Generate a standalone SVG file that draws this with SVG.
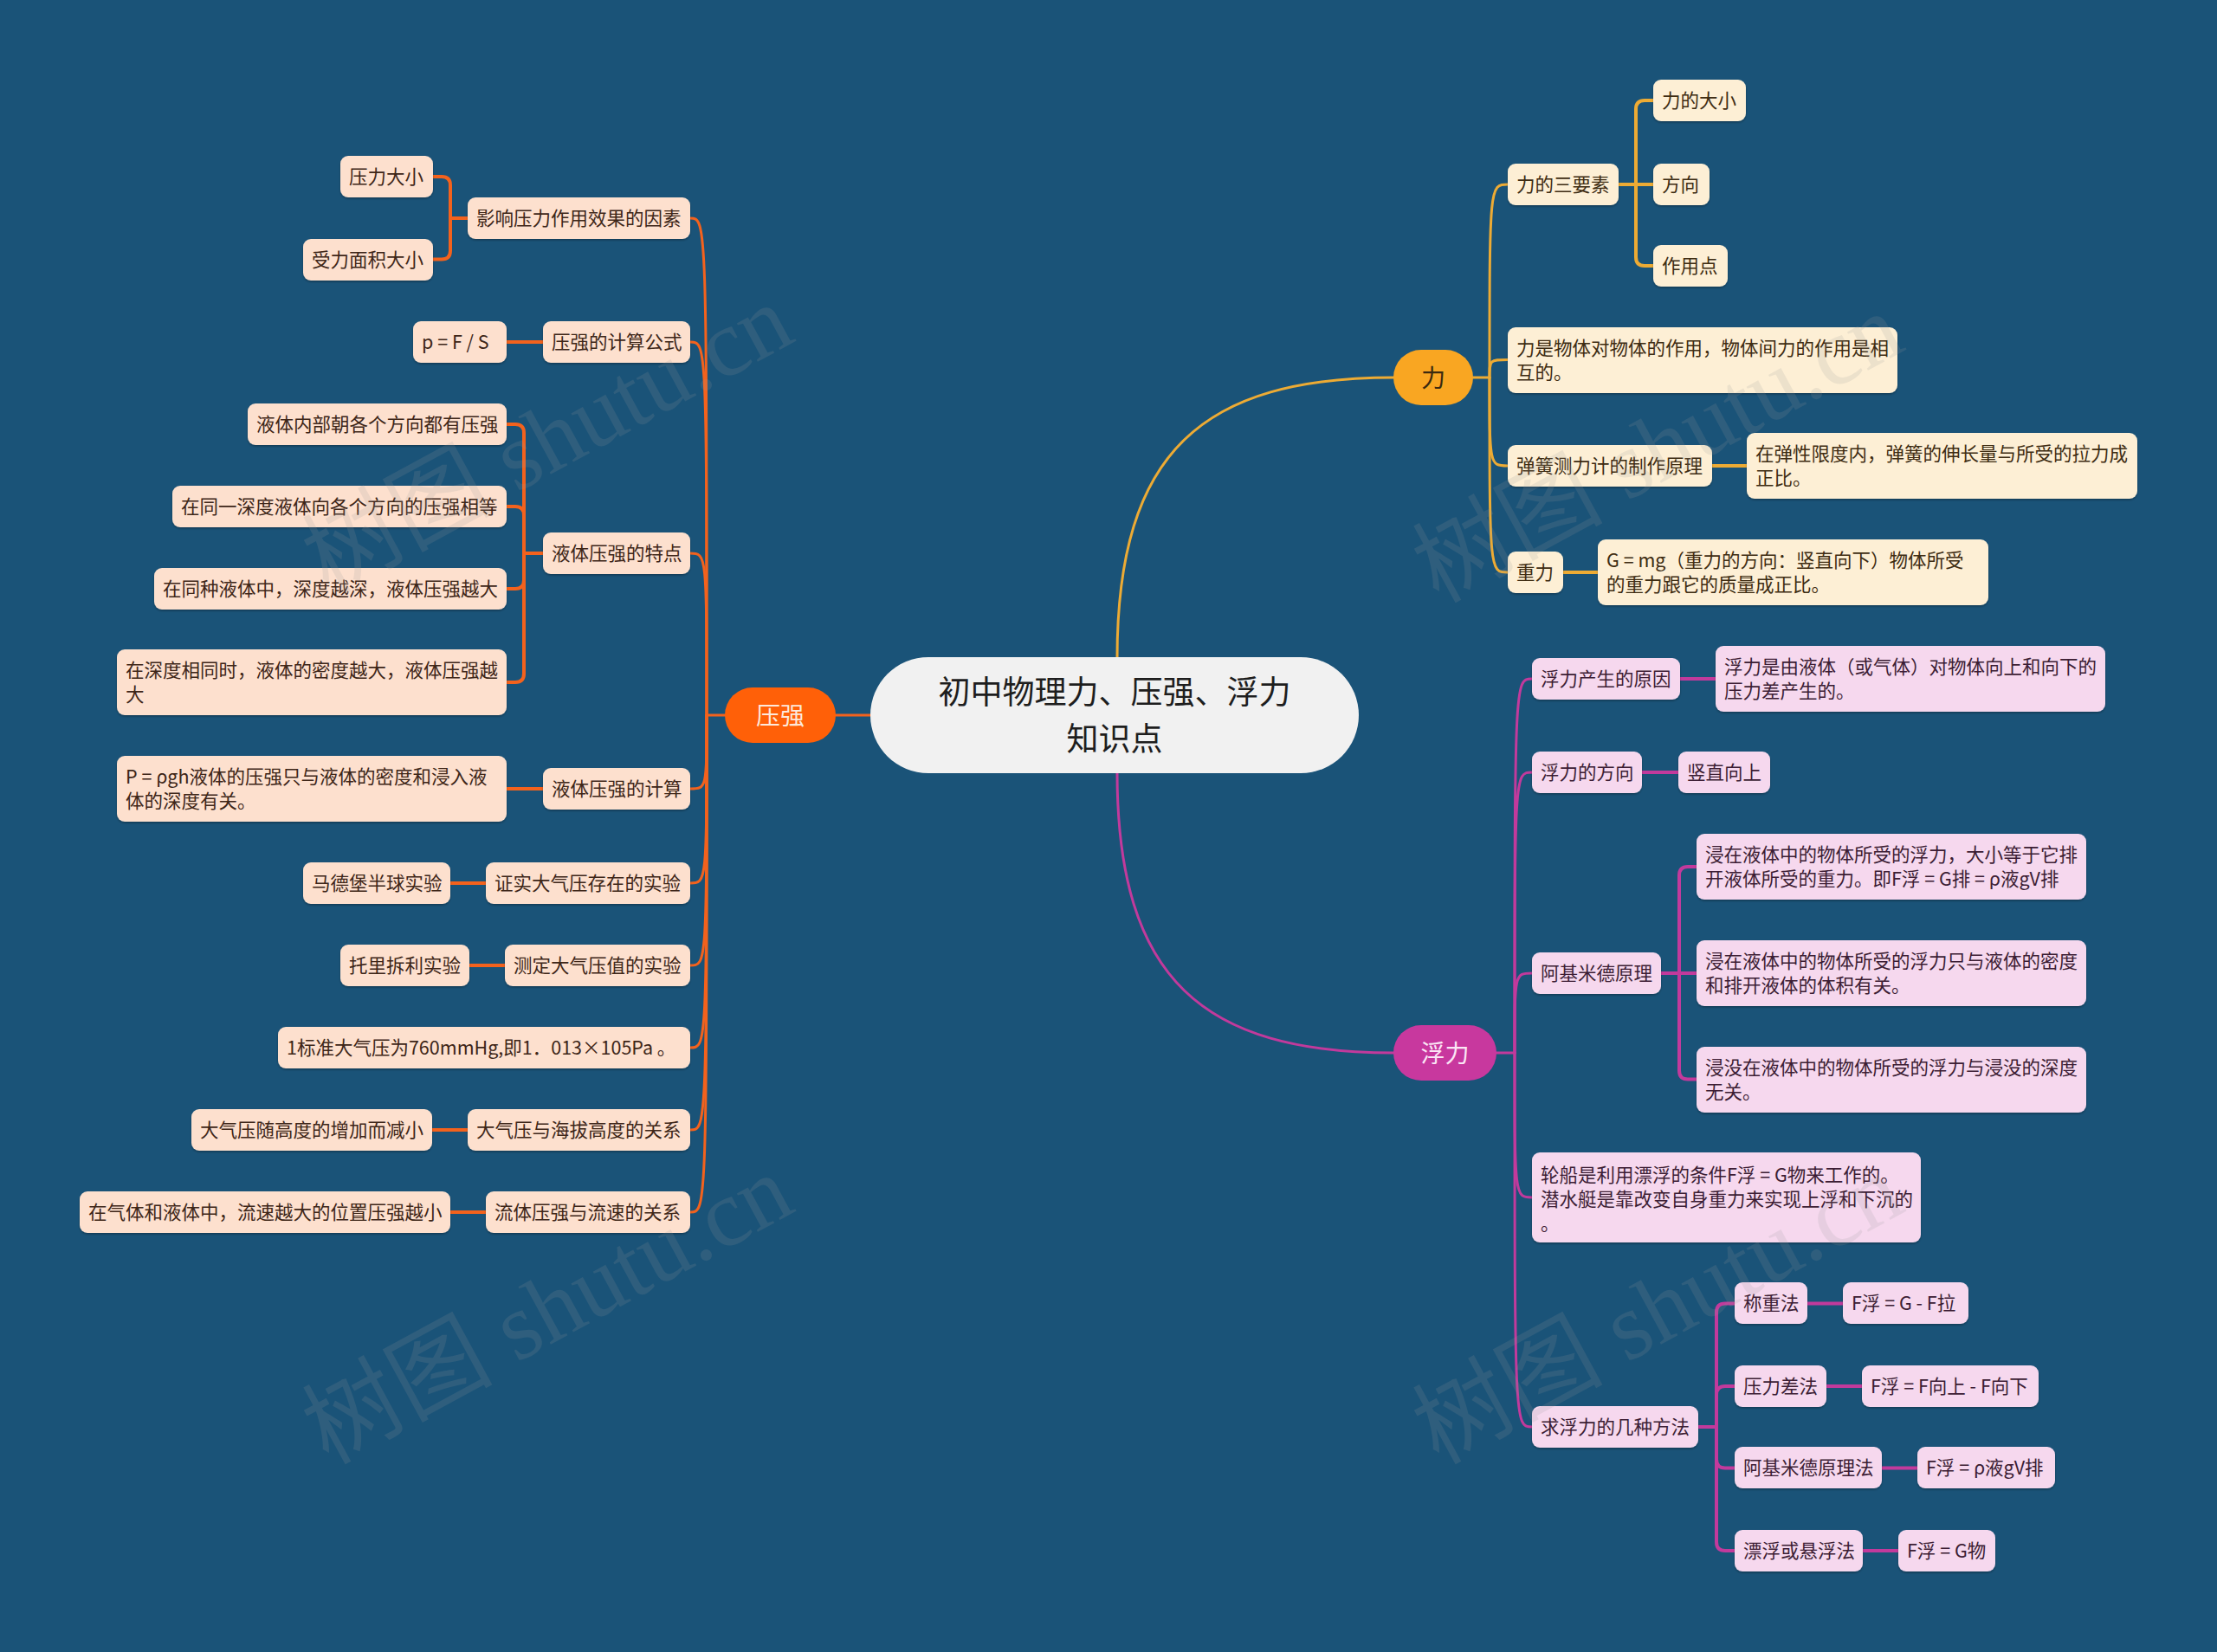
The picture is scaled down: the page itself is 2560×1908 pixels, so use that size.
<svg xmlns="http://www.w3.org/2000/svg" width="2560" height="1908" viewBox="0 0 2560 1908">
<defs>
<style>
.bg{fill:#1a5378}
.t{font-family:"Noto Sans CJK SC","Microsoft YaHei","Noto Sans",sans-serif;font-size:21.5px}
.ny rect{fill:#fde0ce}
.ny text{fill:#3e2618}
.nl rect{fill:#fdefd5}
.nl text{fill:#3e2c12}
.nf rect{fill:#f6d8ee}
.nf text{fill:#3c1d34}
.box{filter:url(#sh)}
.cy{fill:none;stroke:#f3621d;stroke-linecap:round}
.cl{fill:none;stroke:#edab34;stroke-linecap:round}
.cf{fill:none;stroke:#c23a9c;stroke-linecap:round}
.w3{stroke-width:3}
.w4{stroke-width:4}
.wm{font-family:"Liberation Serif","Noto Sans CJK SC",serif;font-size:110px;fill:#9a9a9a;opacity:0.16}
</style>
<filter id="sh" x="-5%" y="-10%" width="110%" height="130%">
<feDropShadow dx="0" dy="1.5" stdDeviation="1" flood-color="#000" flood-opacity="0.3"/>
</filter>
</defs>
<rect class="bg" x="0" y="0" width="2560" height="1908"/>

<g id="connectors">
<path class="cy w3" d="M 1006 826 H 965"/>
<path class="cl w3" d="M 1290 760 C 1290 520, 1390 436, 1610 436"/>
<path class="cf w3" d="M 1290 892 C 1290 1132, 1390 1216, 1610 1216"/>
<path class="cy w3" d="M 838 826 H 816"/>
<path class="cy w3" d="M 816 826 C 816 252, 816 252, 797 252"/>
<path class="cy w3" d="M 816 826 C 816 395, 816 395, 797 395"/>
<path class="cy w3" d="M 816 826 C 816 639, 816 639, 797 639"/>
<path class="cy w3" d="M 816 826 C 816 911, 816 911, 797 911"/>
<path class="cy w3" d="M 816 826 C 816 1020, 816 1020, 797 1020"/>
<path class="cy w3" d="M 816 826 C 816 1115, 816 1115, 797 1115"/>
<path class="cy w3" d="M 816 826 C 816 1210, 816 1210, 797 1210"/>
<path class="cy w3" d="M 816 826 C 816 1305, 816 1305, 797 1305"/>
<path class="cy w3" d="M 816 826 C 816 1400, 816 1400, 797 1400"/>
<path class="cy w4" d="M 540 252 H 520 M 520 252 V 214 Q 520 204 510 204 H 500 M 520 252 V 289.5 Q 520 299.5 510 299.5 H 500"/>
<path class="cy w4" d="M 627 395 H 585"/>
<path class="cy w4" d="M 627 639 H 605 M 605 639 V 500 Q 605 490 595 490 H 585 M 605 639 V 595 Q 605 585 595 585 H 585 M 605 639 V 670 Q 605 680 595 680 H 585 M 605 639 V 778 Q 605 788 595 788 H 585"/>
<path class="cy w4" d="M 627 911 H 585"/>
<path class="cy w4" d="M 561 1020 H 520"/>
<path class="cy w4" d="M 583 1115 H 542"/>
<path class="cy w4" d="M 540 1305 H 499"/>
<path class="cy w4" d="M 561 1400 H 520"/>
<path class="cl w3" d="M 1701 436 H 1720"/>
<path class="cl w3" d="M 1720 436 C 1720 213, 1720 213, 1741 213"/>
<path class="cl w3" d="M 1720 436 C 1720 415.5, 1720 415.5, 1741 415.5"/>
<path class="cl w3" d="M 1720 436 C 1720 538, 1720 538, 1741 538"/>
<path class="cl w3" d="M 1720 436 C 1720 661, 1720 661, 1741 661"/>
<path class="cl w4" d="M 1869 213 H 1909 M 1889 213 V 126 Q 1889 116 1899 116 H 1909 M 1889 213 V 297 Q 1889 307 1899 307 H 1909"/>
<path class="cl w4" d="M 1977 538 H 2017"/>
<path class="cl w4" d="M 1805 661 H 1845"/>
<path class="cf w3" d="M 1728 1216 H 1749"/>
<path class="cf w3" d="M 1749 1216 C 1749 784, 1749 784, 1769 784"/>
<path class="cf w3" d="M 1749 1216 C 1749 892, 1749 892, 1769 892"/>
<path class="cf w3" d="M 1749 1216 C 1749 1124, 1749 1124, 1769 1124"/>
<path class="cf w3" d="M 1749 1216 C 1749 1383, 1749 1383, 1769 1383"/>
<path class="cf w3" d="M 1749 1216 C 1749 1648, 1749 1648, 1769 1648"/>
<path class="cf w4" d="M 1940 784 H 1981"/>
<path class="cf w4" d="M 1896 892 H 1938"/>
<path class="cf w4" d="M 1918 1124 H 1959 M 1939 1124 V 1011 Q 1939 1001 1949 1001 H 1959 M 1939 1124 V 1236.5 Q 1939 1246.5 1949 1246.5 H 1959"/>
<path class="cf w4" d="M 1961 1648 H 1982 M 1982 1648 V 1515.5 Q 1982 1505.5 1992 1505.5 H 2003 M 1982 1648 V 1611 Q 1982 1601 1992 1601 H 2003 M 1982 1648 V 1685.5 Q 1982 1695.5 1992 1695.5 H 2003 M 1982 1648 V 1781 Q 1982 1791 1992 1791 H 2003"/>
<path class="cf w4" d="M 2087 1505.5 H 2128 M 2109 1601 H 2150 M 2173 1695.5 H 2214 M 2151 1791 H 2192"/>
</g>

<g id="center">
<rect x="1005" y="759" width="564" height="134" rx="67" fill="#f1f1f1"/>
<text x="1287" y="813" text-anchor="middle" font-family="Noto Sans CJK SC, sans-serif" font-size="37" fill="#1e1e1e">初中物理力、压强、浮力</text>
<text x="1287" y="867" text-anchor="middle" font-family="Noto Sans CJK SC, sans-serif" font-size="37" fill="#1e1e1e">知识点</text>
</g>

<g id="b_yaqiang">
<rect x="837" y="794" width="128" height="64" rx="32" fill="#ff6008"/>
<text x="901" y="836.5" text-anchor="middle" font-family="Noto Sans CJK SC, sans-serif" font-size="28" fill="#fde9dc">压强</text>
</g>
<g id="b_li">
<rect x="1609" y="404" width="92" height="64" rx="32" fill="#f9a622"/>
<text x="1655" y="446.5" text-anchor="middle" font-family="Noto Sans CJK SC, sans-serif" font-size="28" fill="#3b2a10">力</text>
</g>
<g id="b_fuli">
<rect x="1609" y="1184" width="119" height="64" rx="32" fill="#c8389e"/>
<text x="1668.5" y="1226.5" text-anchor="middle" font-family="Noto Sans CJK SC, sans-serif" font-size="28" fill="#fbe6f5">浮力</text>
</g>

<g id="p1" class="ny t"><rect class="box" x="540" y="228" width="257" height="48" rx="9"/><text x="550" y="260">影响压力作用效果的因素</text></g>
<g id="p1a" class="ny t"><rect class="box" x="393" y="180" width="107" height="48" rx="9"/><text x="403" y="212">压力大小</text></g>
<g id="p1b" class="ny t"><rect class="box" x="350" y="276" width="150" height="48" rx="9"/><text x="360" y="308">受力面积大小</text></g>
<g id="p2" class="ny t"><rect class="box" x="627" y="371" width="170" height="48" rx="9"/><text x="637" y="403">压强的计算公式</text></g>
<g id="p2a" class="ny t"><rect class="box" x="477" y="371" width="108" height="48" rx="9"/><text x="487" y="403">p = F / S</text></g>
<g id="p3" class="ny t"><rect class="box" x="627" y="615" width="170" height="48" rx="9"/><text x="637" y="647">液体压强的特点</text></g>
<g id="p3a" class="ny t"><rect class="box" x="286" y="466" width="299" height="48" rx="9"/><text x="296" y="498">液体内部朝各个方向都有压强</text></g>
<g id="p3b" class="ny t"><rect class="box" x="199" y="561" width="386" height="48" rx="9"/><text x="209" y="593">在同一深度液体向各个方向的压强相等</text></g>
<g id="p3c" class="ny t"><rect class="box" x="178" y="656" width="407" height="48" rx="9"/><text x="188" y="688">在同种液体中，深度越深，液体压强越大</text></g>
<g id="p3d" class="ny t"><rect class="box" x="135" y="750" width="450" height="76" rx="9"/><text x="145" y="782">在深度相同时，液体的密度越大，液体压强越</text><text x="145" y="810">大</text></g>
<g id="p4" class="ny t"><rect class="box" x="627" y="887" width="170" height="48" rx="9"/><text x="637" y="919">液体压强的计算</text></g>
<g id="p4a" class="ny t"><rect class="box" x="135" y="873" width="450" height="76" rx="9"/><text x="145" y="905">P = ρgh液体的压强只与液体的密度和浸入液</text><text x="145" y="933">体的深度有关。</text></g>
<g id="p5" class="ny t"><rect class="box" x="561" y="996" width="236" height="48" rx="9"/><text x="571" y="1028">证实大气压存在的实验</text></g>
<g id="p5a" class="ny t"><rect class="box" x="350" y="996" width="170" height="48" rx="9"/><text x="360" y="1028">马德堡半球实验</text></g>
<g id="p6" class="ny t"><rect class="box" x="583" y="1091" width="214" height="48" rx="9"/><text x="593" y="1123">测定大气压值的实验</text></g>
<g id="p6a" class="ny t"><rect class="box" x="393" y="1091" width="149" height="48" rx="9"/><text x="403" y="1123">托里拆利实验</text></g>
<g id="p7" class="ny t"><rect class="box" x="321" y="1186" width="476" height="48" rx="9"/><text x="331" y="1218">1标准大气压为760mmHg,即1．013×105Pa 。</text></g>
<g id="p8" class="ny t"><rect class="box" x="540" y="1281" width="257" height="48" rx="9"/><text x="550" y="1313">大气压与海拔高度的关系</text></g>
<g id="p8a" class="ny t"><rect class="box" x="221" y="1281" width="278" height="48" rx="9"/><text x="231" y="1313">大气压随高度的增加而减小</text></g>
<g id="p9" class="ny t"><rect class="box" x="561" y="1376" width="236" height="48" rx="9"/><text x="571" y="1408">流体压强与流速的关系</text></g>
<g id="p9a" class="ny t"><rect class="box" x="92" y="1376" width="428" height="48" rx="9"/><text x="102" y="1408">在气体和液体中，流速越大的位置压强越小</text></g>

<g id="l1" class="nl t"><rect class="box" x="1741" y="189" width="128" height="48" rx="9"/><text x="1751" y="221">力的三要素</text></g>
<g id="l1a" class="nl t"><rect class="box" x="1909" y="92" width="107" height="48" rx="9"/><text x="1919" y="124">力的大小</text></g>
<g id="l1b" class="nl t"><rect class="box" x="1909" y="189" width="65" height="48" rx="9"/><text x="1919" y="221">方向</text></g>
<g id="l1c" class="nl t"><rect class="box" x="1909" y="283" width="86" height="48" rx="9"/><text x="1919" y="315">作用点</text></g>
<g id="l2" class="nl t"><rect class="box" x="1741" y="378" width="450" height="76" rx="9"/><text x="1751" y="410">力是物体对物体的作用，物体间力的作用是相</text><text x="1751" y="438">互的。</text></g>
<g id="l3" class="nl t"><rect class="box" x="1741" y="514" width="236" height="48" rx="9"/><text x="1751" y="546">弹簧测力计的制作原理</text></g>
<g id="l3a" class="nl t"><rect class="box" x="2017" y="500" width="451" height="76" rx="9"/><text x="2027" y="532">在弹性限度内，弹簧的伸长量与所受的拉力成</text><text x="2027" y="560">正比。</text></g>
<g id="l4" class="nl t"><rect class="box" x="1741" y="637" width="64" height="48" rx="9"/><text x="1751" y="669">重力</text></g>
<g id="l4a" class="nl t"><rect class="box" x="1845" y="623" width="451" height="76" rx="9"/><text x="1855" y="655">G = mg（重力的方向：竖直向下）物体所受</text><text x="1855" y="683">的重力跟它的质量成正比。</text></g>

<g id="f1" class="nf t"><rect class="box" x="1769" y="760" width="171" height="48" rx="9"/><text x="1779" y="792">浮力产生的原因</text></g>
<g id="f1a" class="nf t"><rect class="box" x="1981" y="746" width="450" height="76" rx="9"/><text x="1991" y="778">浮力是由液体（或气体）对物体向上和向下的</text><text x="1991" y="806">压力差产生的。</text></g>
<g id="f2" class="nf t"><rect class="box" x="1769" y="868" width="127" height="48" rx="9"/><text x="1779" y="900">浮力的方向</text></g>
<g id="f2a" class="nf t"><rect class="box" x="1938" y="868" width="106" height="48" rx="9"/><text x="1948" y="900">竖直向上</text></g>
<g id="f3" class="nf t"><rect class="box" x="1769" y="1100" width="149" height="48" rx="9"/><text x="1779" y="1132">阿基米德原理</text></g>
<g id="f3a" class="nf t"><rect class="box" x="1959" y="963" width="450" height="76" rx="9"/><text x="1969" y="995">浸在液体中的物体所受的浮力，大小等于它排</text><text x="1969" y="1023">开液体所受的重力。即F浮 = G排 = ρ液gV排</text></g>
<g id="f3b" class="nf t"><rect class="box" x="1959" y="1086" width="450" height="76" rx="9"/><text x="1969" y="1118">浸在液体中的物体所受的浮力只与液体的密度</text><text x="1969" y="1146">和排开液体的体积有关。</text></g>
<g id="f3c" class="nf t"><rect class="box" x="1959" y="1209" width="450" height="76" rx="9"/><text x="1969" y="1241">浸没在液体中的物体所受的浮力与浸没的深度</text><text x="1969" y="1269">无关。</text></g>
<g id="f4" class="nf t"><rect class="box" x="1769" y="1331" width="449" height="104" rx="9"/><text x="1779" y="1365">轮船是利用漂浮的条件F浮 = G物来工作的。</text><text x="1779" y="1393">潜水艇是靠改变自身重力来实现上浮和下沉的</text><text x="1779" y="1421">。</text></g>
<g id="f5" class="nf t"><rect class="box" x="1769" y="1624" width="192" height="48" rx="9"/><text x="1779" y="1656">求浮力的几种方法</text></g>
<g id="f5a" class="nf t"><rect class="box" x="2003" y="1481" width="84" height="48" rx="9"/><text x="2013" y="1513">称重法</text></g>
<g id="f5a1" class="nf t"><rect class="box" x="2128" y="1481" width="145" height="48" rx="9"/><text x="2138" y="1513">F浮 = G - F拉</text></g>
<g id="f5b" class="nf t"><rect class="box" x="2003" y="1577" width="106" height="48" rx="9"/><text x="2013" y="1609">压力差法</text></g>
<g id="f5b1" class="nf t"><rect class="box" x="2150" y="1577" width="204" height="48" rx="9"/><text x="2160" y="1609">F浮 = F向上 - F向下</text></g>
<g id="f5c" class="nf t"><rect class="box" x="2003" y="1671" width="170" height="48" rx="9"/><text x="2013" y="1703">阿基米德原理法</text></g>
<g id="f5c1" class="nf t"><rect class="box" x="2214" y="1671" width="159" height="48" rx="9"/><text x="2224" y="1703">F浮 = ρ液gV排</text></g>
<g id="f5d" class="nf t"><rect class="box" x="2003" y="1767" width="148" height="48" rx="9"/><text x="2013" y="1799">漂浮或悬浮法</text></g>
<g id="f5d1" class="nf t"><rect class="box" x="2192" y="1767" width="112" height="48" rx="9"/><text x="2202" y="1799">F浮 = G物</text></g>

<g id="watermarks" pointer-events="none">
<text class="wm" text-anchor="middle" transform="translate(650 540) rotate(-28.5)">树图 shutu.cn</text>
<text class="wm" text-anchor="middle" transform="translate(650 1545) rotate(-28.5)">树图 shutu.cn</text>
<text class="wm" text-anchor="middle" transform="translate(1932 550) rotate(-28.5)">树图 shutu.cn</text>
<text class="wm" text-anchor="middle" transform="translate(1932 1545) rotate(-28.5)">树图 shutu.cn</text>
</g>
</svg>
